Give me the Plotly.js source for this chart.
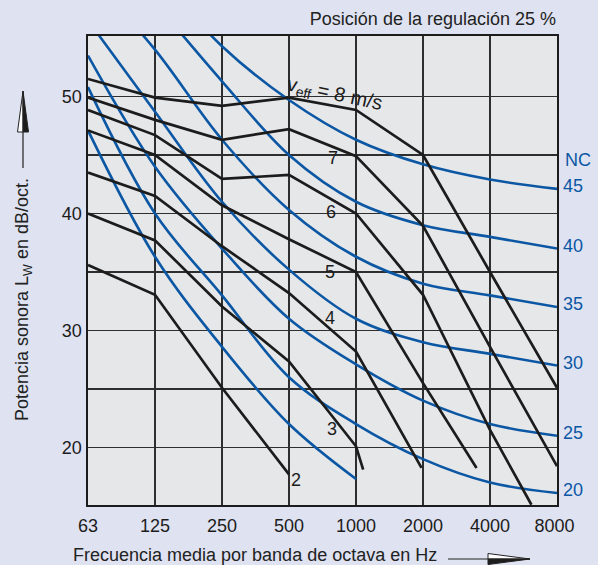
<!DOCTYPE html>
<html>
<head>
<meta charset="utf-8">
<script src="https://cdn.plot.ly/plotly-3.0.1.min.js"></script>
<style>
html,body{margin:0;padding:0;background:#dfe2f1;}
#chart{width:598px;height:565px;}
</style>
</head>
<body>
<div id="chart"></div>
<script>
// ---------- DATA ----------
const bandFreqs  = [62.5, 125, 250, 500, 1000, 2000, 4000, 8000];
const bandLabels = ["63", "125", "250", "500", "1000", "2000", "4000", "8000\u00a0"];
const yTickVals   = [20, 30, 40, 50];
const yTickLabels = ["20", "30", "40", "50"];
const yMinorGrid  = [25, 35, 45];

// NC curves (level per octave band)
const ncNames = ["45", "40", "35", "30", "25", "20", "15"];
const nc45 = [67, 60.5, 54.3, 49.7, 46.3, 44.2, 42.9, 42.1];
const nc40 = [64.5, 58, 51.3, 45, 41, 39, 38, 37];
const nc35 = [60.5, 54, 46.3, 40.3, 36.3, 34, 33, 32];
const nc30 = [56.5, 48.7, 41, 35.2, 31, 29, 28, 27];
const nc25 = [53.5, 44, 37, 31, 27.1, 24, 22, 21];
const nc20 = [50.8, 40, 33, 26, 22, 19, 17, 16.1];
const nc15Freq = [62.5, 125, 250, 500, 1000];
const nc15 = [47.1, 36.3, 28.6, 22, 17.3];

// Velocity curves v_eff (m/s): frequency points and sound power Lw
const v8Freq = [62.5, 125, 250, 500, 1000, 2000, 4000, 8000];
const v8     = [51.5, 49.9, 49.2, 49.9, 48.85, 45.0, 35.0, 25.1];
const v7Freq = [62.5, 125, 250, 500, 1000, 2000, 4000, 8000];
const v7     = [49.9, 48.0, 46.3, 47.2, 44.9, 38.95, 28.6, 18.4];
const v6Freq = [62.5, 125, 250, 500, 1000, 2000, 4000, 6140];
const v6     = [48.85, 46.7, 42.95, 43.3, 40.0, 33.05, 21.5, 15.1];
const v5Freq = [62.5, 125, 250, 500, 1000, 2000, 3480];
const v5     = [47.1, 45.0, 40.7, 37.8, 35.0, 25.5, 18.25];
const v4Freq = [62.5, 125, 250, 500, 1000, 1970];
const v4     = [43.5, 41.5, 37.2, 33.2, 28.2, 18.25];
const v3Freq = [62.5, 125, 250, 500, 1000, 1077];
const v3     = [40.0, 37.7, 32.05, 27.35, 20.1, 18.1];
const v2Freq = [62.5, 125, 250, 500];
const v2     = [35.6, 33.05, 25.1, 17.7];
const velLabels = ["v<sub>eff</sub> = 8 m/s", "7", "6", "5", "4", "3", "2"];

const titleText  = "Posición de la regulación 25 %";
const xTitleText = "Frecuencia media por banda de octava en Hz";
const yTitleText = "Potencia sonora L<sub>W</sub> en dB/oct.";
const ncHeader   = "NC";

// ---------- STYLE / GEOMETRY ----------
const W = 598, H = 565, ML = 88, MR = 41, MT = 36, MB = 60;
const PW = W - ML - MR, PH = H - MT - MB;
function px(x){ return (x - ML) / PW; }
function py(y){ return (H - MB - y) / PH; }

const BLACK = "#1c1c1c";
const BLUE  = "#0b57a4";
const GRID  = "#2e2e2e";
const PLOTBG = "#e6e7e9";
const FONT = "Liberation Sans, Arial, Helvetica, sans-serif";

const traces = [];
const ncSeries = [nc45, nc40, nc35, nc30, nc25, nc20];
ncSeries.forEach(function(vals, i){
  traces.push({x: bandFreqs, y: vals, type: "scatter", mode: "lines",
    line: {color: BLUE, width: 2.6, shape: "spline", smoothing: 1},
    hoverinfo: "skip", name: "NC " + ncNames[i]});
});
traces.push({x: nc15Freq, y: nc15, type: "scatter", mode: "lines",
  line: {color: BLUE, width: 2.6, shape: "spline", smoothing: 1},
  hoverinfo: "skip", name: "NC " + ncNames[6]});

const velSeries = [[v8Freq, v8], [v7Freq, v7], [v6Freq, v6], [v5Freq, v5], [v4Freq, v4], [v3Freq, v3], [v2Freq, v2]];
velSeries.forEach(function(s, i){
  traces.push({x: s[0], y: s[1], type: "scatter", mode: "lines",
    line: {color: BLACK, width: 2.7}, hoverinfo: "skip", name: velLabels[i]});
});

// label positions (page pixels), angle, size
const velLabelPos = [[334, 95, 12, 20], [332.5, 157.5, 0, 18], [331, 212, 0, 18], [330, 271.5, 0, 18], [330, 317.5, 0, 18], [332, 429, 0, 18], [295.5, 480, 0, 18]];
const annotations = [];
velLabels.forEach(function(t, i){
  const p = velLabelPos[i];
  annotations.push({xref: "paper", yref: "paper", x: px(p[0]), y: py(p[1]),
    text: t, showarrow: false, textangle: p[2], xanchor: "center", yanchor: "middle",
    font: {family: FONT, size: p[3], color: BLACK}});
});

// NC labels on the right
const ncEnds = [nc45, nc40, nc35, nc30, nc25, nc20].map(function(a){ return a[a.length - 1]; });
ncEnds.forEach(function(v, i){
  annotations.push({xref: "paper", yref: "y", x: 1, y: v, xanchor: "left", yanchor: "middle",
    xshift: 4, yshift: 3, text: ncNames[i], showarrow: false,
    font: {family: FONT, size: 18, color: BLUE}});
});
annotations.push({xref: "paper", yref: "paper", x: px(563), y: py(160), xanchor: "left", yanchor: "middle",
  text: ncHeader, showarrow: false, font: {family: FONT, size: 18, color: BLUE}});

// axis titles (placed as annotations to match the original offsets)
annotations.push({xref: "paper", yref: "paper", x: px(71), y: py(554.5), xanchor: "left", yanchor: "middle",
  text: xTitleText, showarrow: false, font: {family: FONT, size: 18, color: "#222"}});
annotations.push({xref: "paper", yref: "paper", x: px(23), y: py(300), xanchor: "center", yanchor: "middle",
  text: yTitleText, textangle: -90, showarrow: false, font: {family: FONT, size: 18, color: "#222"}});

// shapes: label gaps in grid + arrows
const shapes = [];
const gaps = [[290, 88, 380, 101], [323, 149, 343, 166], [321, 204, 342, 220], [320, 263, 340, 280]];
gaps.forEach(function(g){
  shapes.push({type: "rect", xref: "paper", yref: "paper", x0: px(g[0]), y0: py(g[1]), x1: px(g[2]), y1: py(g[3]),
    fillcolor: PLOTBG, line: {width: 0}, layer: "between"});
});
// y arrow
shapes.push({type: "line", xref: "paper", yref: "paper", x0: px(23), y0: py(168), x1: px(23), y1: py(131),
  line: {color: "#222", width: 1.2}});
shapes.push({type: "path", xref: "paper", yref: "paper",
  path: "M" + px(23) + "," + py(91) + " L" + px(17.5) + "," + py(132) + " L" + px(23) + "," + py(132) + " Z",
  fillcolor: "#ffffff", line: {color: "#222", width: 1}});
shapes.push({type: "path", xref: "paper", yref: "paper",
  path: "M" + px(23) + "," + py(91) + " L" + px(28.5) + "," + py(132) + " L" + px(23) + "," + py(132) + " Z",
  fillcolor: "#1c1c1c", line: {color: "#222", width: 1}});
// x arrow
shapes.push({type: "line", xref: "paper", yref: "paper", x0: px(448), y0: py(559), x1: px(489), y1: py(559),
  line: {color: "#222", width: 1.2}});
shapes.push({type: "path", xref: "paper", yref: "paper",
  path: "M" + px(530) + "," + py(559) + " L" + px(488) + "," + py(553.5) + " L" + px(488) + "," + py(559) + " Z",
  fillcolor: "#ffffff", line: {color: "#222", width: 1}});
shapes.push({type: "path", xref: "paper", yref: "paper",
  path: "M" + px(530) + "," + py(559) + " L" + px(488) + "," + py(564.5) + " L" + px(488) + "," + py(559) + " Z",
  fillcolor: "#1c1c1c", line: {color: "#222", width: 1}});

const layout = {
  width: W, height: H,
  margin: {l: ML, r: MR, t: MT, b: MB, pad: 0},
  paper_bgcolor: "#dfe2f1",
  plot_bgcolor: PLOTBG,
  showlegend: false,
  font: {family: FONT, size: 18, color: "#1c1c1c"},
  title: {text: titleText, xref: "paper", x: px(556), xanchor: "right",
          yref: "container", y: 1 - 19 / H, yanchor: "middle",
          font: {family: FONT, size: 18, color: "#222"}},
  xaxis: {
    type: "log", range: [Math.log10(62.5), Math.log10(8000)],
    tickvals: bandFreqs, ticktext: bandLabels,
    showgrid: true, gridcolor: GRID, gridwidth: 1.2,
    showline: true, mirror: true, linecolor: BLACK, linewidth: 1.6,
    ticks: "", zeroline: false, ticklabelstandoff: 4,
    tickfont: {family: FONT, size: 18, color: "#1c1c1c"}, fixedrange: true
  },
  yaxis: {
    range: [15.08, 55.17],
    tickvals: yTickVals, ticktext: yTickLabels,
    minor: {tickvals: yMinorGrid, showgrid: true, gridcolor: GRID, gridwidth: 1.2, ticks: ""},
    showgrid: true, gridcolor: GRID, gridwidth: 1.2,
    showline: true, mirror: true, linecolor: BLACK, linewidth: 1.6,
    ticks: "", zeroline: false, ticklabelstandoff: 1,
    tickfont: {family: FONT, size: 18, color: "#1c1c1c"}, fixedrange: true
  },
  annotations: annotations,
  shapes: shapes
};

Plotly.newPlot("chart", traces, layout, {displayModeBar: false, staticPlot: true});
</script>
</body>
</html>
